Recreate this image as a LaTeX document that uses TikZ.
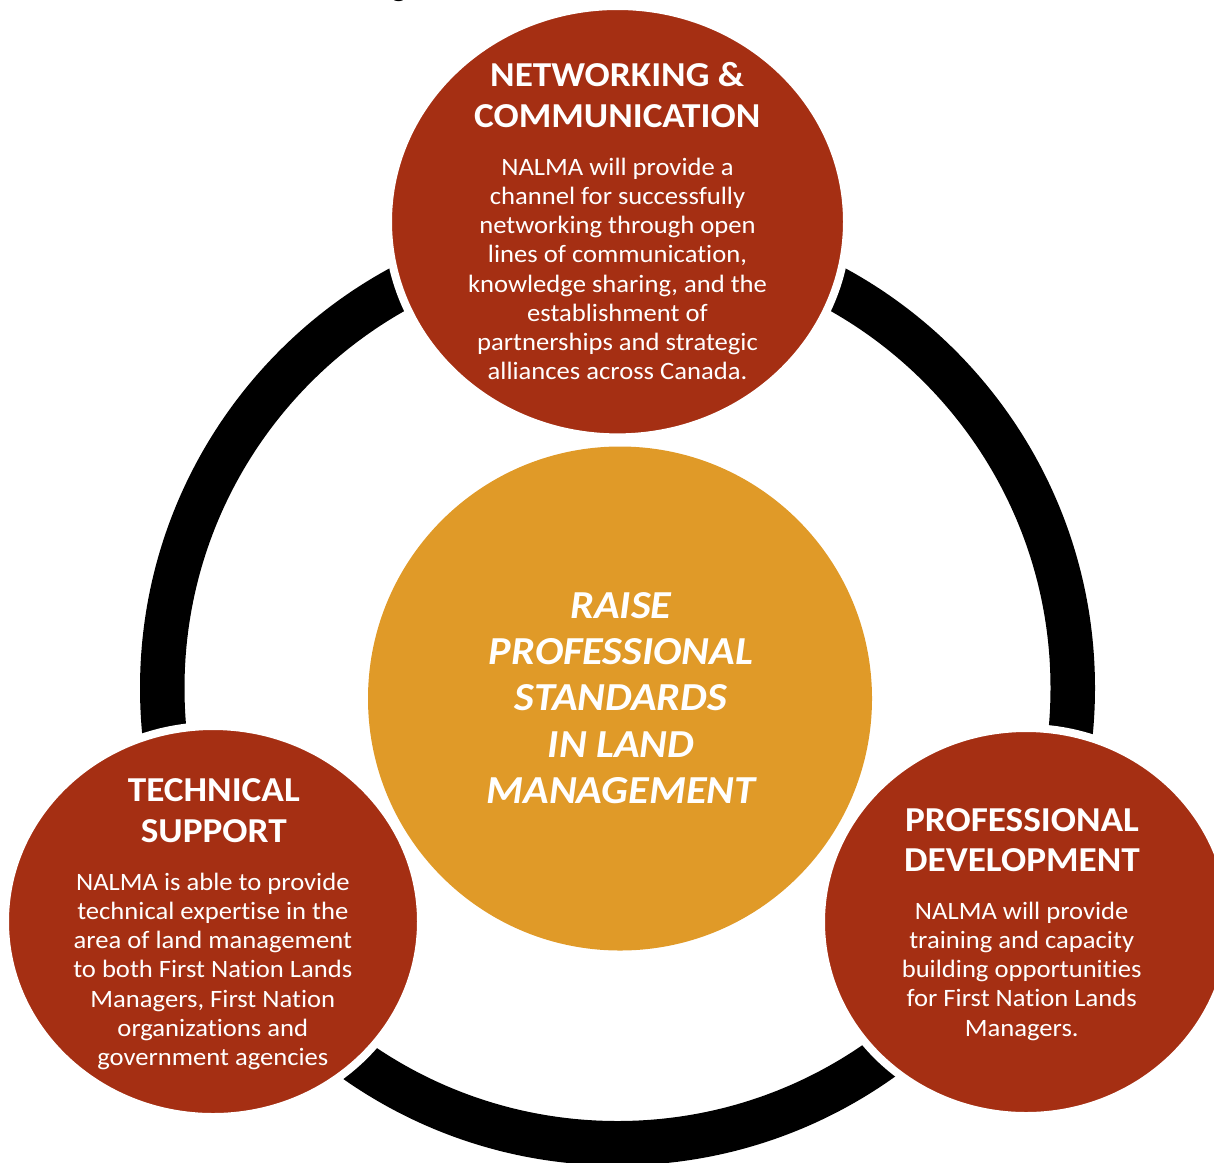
\documentclass[tikz,border=0pt]{standalone}
\usepackage{fontspec}
\setmainfont{Carlito}[FakeStretch=1.065, Ligatures=NoCommon]
\usetikzlibrary{shapes.geometric}
\definecolor{rust}{HTML}{A52F13}
\definecolor{gold}{HTML}{E09A28}
\begin{document}
\begin{tikzpicture}[x=1pt,y=-1pt,
  redball/.style={ellipse, fill=rust, draw=white, line width=8pt, inner sep=0pt},
  titletext/.style={text=white, align=center, inner sep=0pt, font=\fontsize{35}{40.7}\selectfont\bfseries},
  bodytext/.style={text=white, align=center, inner sep=0pt, font=\fontsize{25}{29.2}\selectfont},
  hubtext/.style={text=white, align=center, inner sep=0pt, font=\fontsize{39.7}{46.25}\selectfont\bfseries\itshape}]
\useasboundingbox (0,0) rectangle (1214,1162);
\clip (0,0) rectangle (1214,1162);
\node[inner sep=0pt, anchor=base, font=\fontsize{30}{36}\selectfont] (cap) at (399,-3.3) {g};
\node[circle, draw=black, line width=44.5pt, minimum size=910.5pt, inner sep=0pt] (ring) at (617.5,688) {};
\node[circle, fill=gold, minimum size=504pt, inner sep=0pt] (hub) at (620,698.5) {};
\node[redball, minimum width=459pt, minimum height=431.4pt] (net) at (617.5,221.7) {};
\node[redball, minimum width=416pt, minimum height=391pt] (tech) at (213,921.5) {};
\node[redball, minimum width=410pt, minimum height=388pt] (prof) at (1026,922) {};
\node[titletext] (nettitle) at (617.2,99.2) {\strut NETWORKING \&\\COMMUNICATION\strut};
\node[bodytext] (netbody) at (617.5,271.7) {\strut NALMA will provide a\\channel for successfully\\networking through open\\lines of communication,\\knowledge sharing, and the\\establishment of\\partnerships and strategic\\alliances across Canada.\strut};
\node[titletext] (techtitle) at (213.8,814) {\strut TECHNICAL\\SUPPORT\strut};
\node[bodytext] (techbody) at (212.8,972) {\strut NALMA is able to provide\\technical expertise in the\\area of land management\\to both First Nation Lands\\Managers, First Nation\\organizations and\\government agencies\strut};
\node[titletext] (proftitle) at (1022,843.2) {\strut PROFESSIONAL\\DEVELOPMENT\strut};
\node[bodytext] (profbody) at (1021.7,971.8) {\strut NALMA will provide\\training and capacity\\building opportunities\\for First Nation Lands\\Managers.\strut};
\node[hubtext] (hubtitle) at (621,701.6) {\strut RAISE\\PROFESSIONAL\\STANDARDS\\IN LAND\\MANAGEMENT\strut};
\end{tikzpicture}
\end{document}
